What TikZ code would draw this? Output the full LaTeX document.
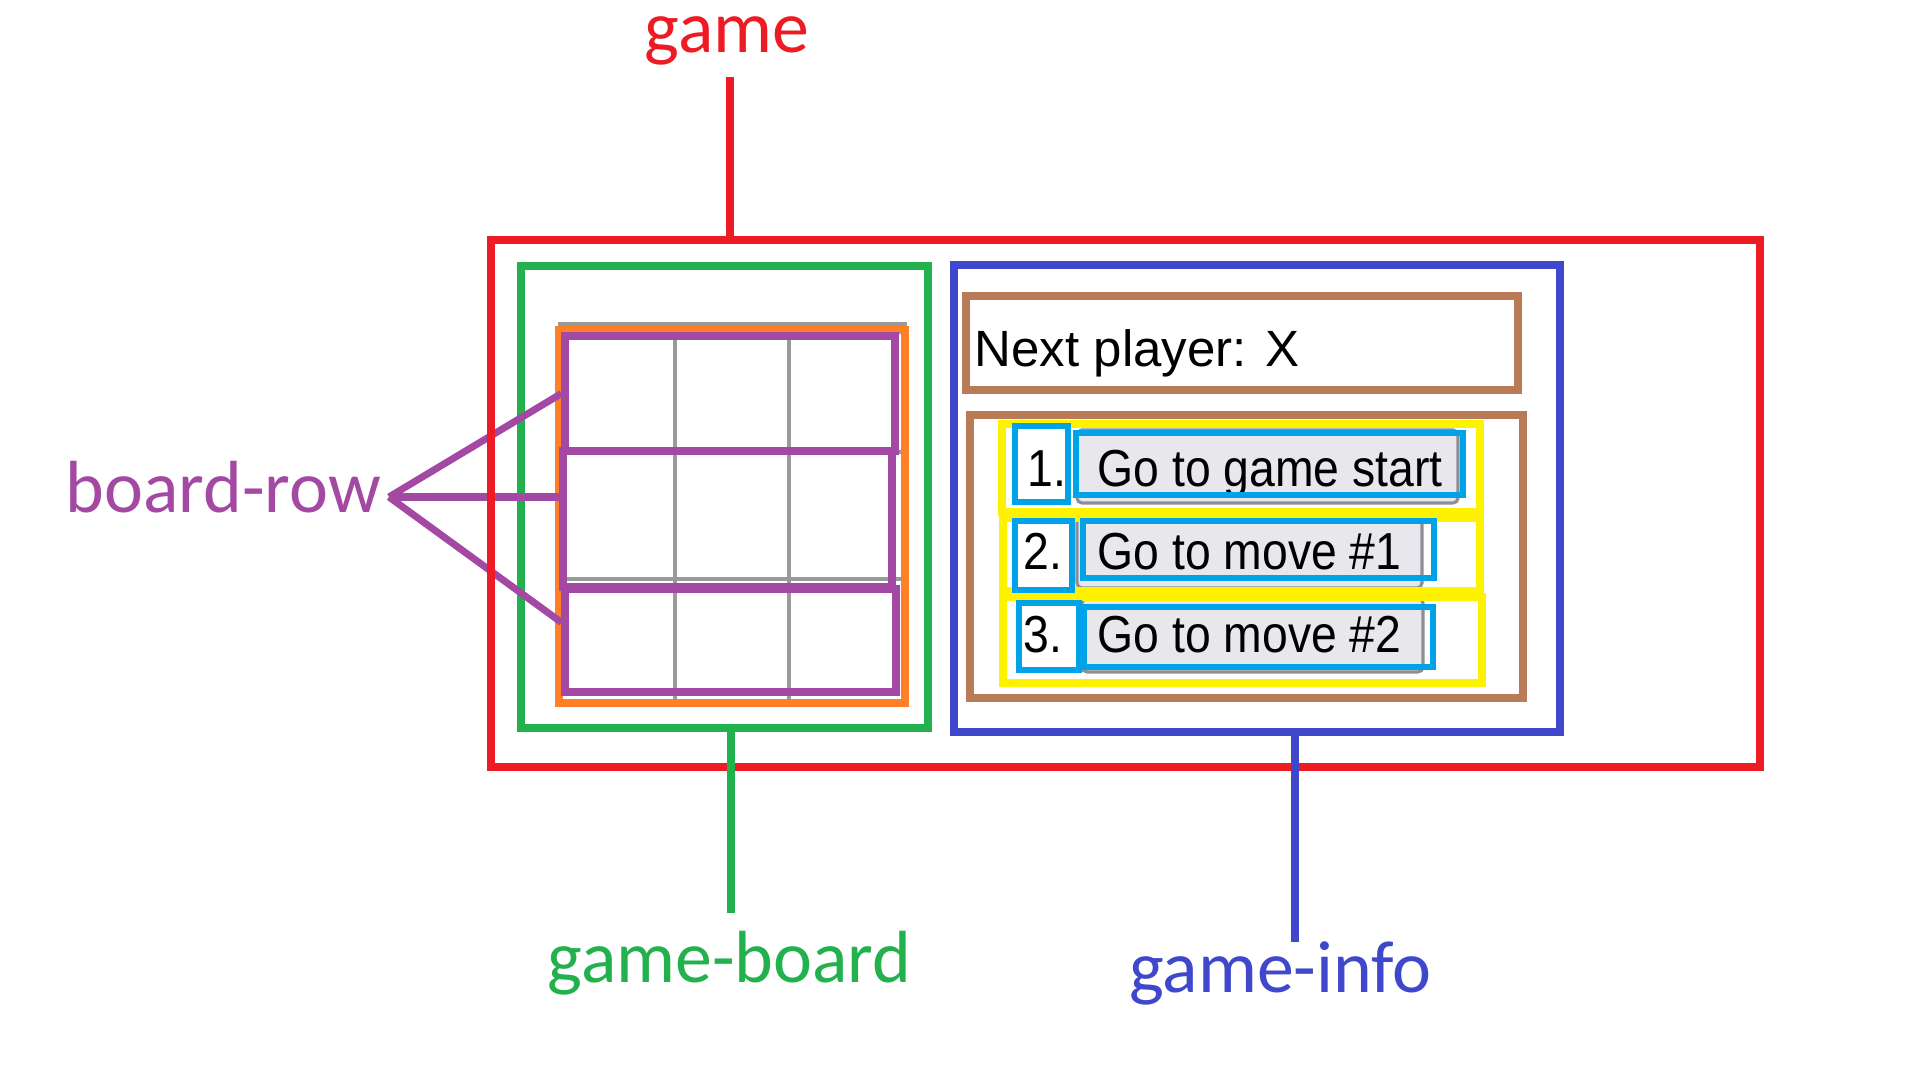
\documentclass[tikz,border=0pt]{standalone}
\usepackage{fontspec}
\setmainfont{Carlito}
\newfontfamily\uifont[FakeStretch=0.89]{Liberation Sans}
\newfontfamily\statusfont{Liberation Sans}
\definecolor{gamered}{HTML}{ED1C24}
\definecolor{boardgreen}{HTML}{22B14C}
\definecolor{infoblue}{HTML}{3F48CC}
\definecolor{rowpurple}{HTML}{A349A4}
\definecolor{squareorange}{HTML}{FF7F27}
\definecolor{panelbrown}{HTML}{B97A57}
\definecolor{itemyellow}{HTML}{FFF200}
\definecolor{buttoncyan}{HTML}{00A2E8}
\definecolor{cellgray}{HTML}{999999}
\definecolor{facegray}{HTML}{E8E8EC}
\definecolor{edgegray}{HTML}{8E8E98}

\begin{document}
\begin{tikzpicture}[x=0.01cm, y=-0.01cm,
    container/.style={draw, line width=2pt, inner sep=0pt},
    dims/.style 2 args={minimum width=#1*0.01cm, minimum height=#2*0.01cm},
    gridline/.style={cellgray, line width=1.1pt},
    face/.style={fill=facegray, draw=edgegray, line width=0.9pt, rounded corners=0.05cm, inner sep=0pt},
    uitext/.style={inner sep=0pt, font=\uifont\fontsize{14.8}{16}\selectfont},
    tag/.style={inner sep=0pt, font=\fontsize{21}{25}\selectfont},
    leader/.style={line width=2pt}]
   \useasboundingbox (0,0) rectangle (1920,1080);

   \draw[gridline] (558,324) -- (907,324);
   \foreach \y in {452,579} \draw[gridline] (561,\y) -- (907,\y);
   \foreach \x in {675,789} \draw[gridline] (\x,324) -- (\x,704);

   \node[container, draw=squareorange, dims={346}{373}] (squares) at (732,516.5) {};
   \node[container, draw=rowpurple, dims={330}{115}] (row1) at (730,393.5) {};
   \node[container, draw=rowpurple, dims={329}{136}] (row2) at (727.5,519) {};
   \node[container, draw=rowpurple, dims={331}{103}] (row3) at (730.5,640.5) {};
   \node[container, draw=boardgreen, line width=2.2pt, dims={407}{462}] (board) at (724.5,497) {};

   \node[tag, text=rowpurple, anchor=base west] (rowtag) at (65,513) {board-row};
   \coordinate (rowfork) at (389,497);
   \draw[rowpurple, leader] (rowfork) -- (row1.west);
   \draw[rowpurple, leader] (rowfork) -- (rowfork -| row2.west);
   \draw[rowpurple, leader] (rowfork) -- ([yshift=0.18cm]row3.west);

   \node[container, draw=gamered, line width=2.3pt, dims={1269}{527}] (game) at (1125.5,503.5) {};

   \node[container, draw=infoblue, dims={606}{467}] (info) at (1257,498.5) {};
   \node[container, draw=panelbrown, dims={552}{94}] (status) at (1242,343) {};
   \node[inner sep=0pt, anchor=base west, font=\statusfont\fontsize{14.5}{16}\selectfont] (nexttext) at (974,367) {Next player: X};
   \node[container, draw=panelbrown, dims={553}{283}] (moves) at (1246.5,556.5) {};

   \node[face, dims={381}{73}] (face1) at (1267.5,466.5) {};
   \node[face, dims={345}{71}] (face2) at (1249.5,552.5) {};
   \node[face, dims={341}{74}] (face3) at (1252.5,635) {};

   \node[container, draw=itemyellow, dims={478}{88}] (item1) at (1241,468) {};
   \node[container, draw=itemyellow, dims={477}{73}] (item2) at (1241.5,554.5) {};
   \node[container, draw=itemyellow, dims={479}{86}] (item3) at (1242.5,640) {};

   \node[uitext, anchor=base west] (num1) at (1027,487) {1.};
   \node[uitext, anchor=base west] (num2) at (1023,570) {2.};
   \node[uitext, anchor=base west] (num3) at (1023,653) {3.};
   \node[uitext, anchor=base west] (label1) at (1097,487) {Go to game start};
   \node[uitext, anchor=base west] (label2) at (1097,570) {Go to move \#1};
   \node[uitext, anchor=base west] (label3) at (1097,653) {Go to move \#2};

   \node[container, draw=buttoncyan, line width=1.7pt, dims={53}{76}] (mark1) at (1041.5,464) {};
   \node[container, draw=buttoncyan, line width=1.7pt, dims={57}{69}] (mark2) at (1043.5,555.5) {};
   \node[container, draw=buttoncyan, line width=1.7pt, dims={60}{67}] (mark3) at (1049,636.5) {};
   \node[container, draw=buttoncyan, line width=1.7pt, dims={387}{62}] (button1) at (1269.5,464) {};
   \node[container, draw=buttoncyan, line width=1.7pt, dims={351}{57}] (button2) at (1258.5,549.5) {};
   \node[container, draw=buttoncyan, line width=1.7pt, dims={349}{60}] (button3) at (1258.5,637) {};

   \node[tag, text=gamered, anchor=base] (gametag) at (727,53) {game};
   \node[tag, text=boardgreen, anchor=base] (boardtag) at (729.5,983) {game-board};
   \node[tag, text=infoblue, anchor=base] (infotag) at (1280.5,993) {game-info};

   \coordinate (gamepin) at (730,77);
   \coordinate (boardpin) at (731,913);
   \coordinate (infopin) at (1295,942);
   \draw[gamered, leader] (gamepin) -- (gamepin |- game.north);
   \draw[boardgreen, leader] (boardpin |- board.south) -- (boardpin);
   \draw[infoblue, leader] (infopin |- info.south) -- (infopin);
 \end{tikzpicture}
\end{document}
